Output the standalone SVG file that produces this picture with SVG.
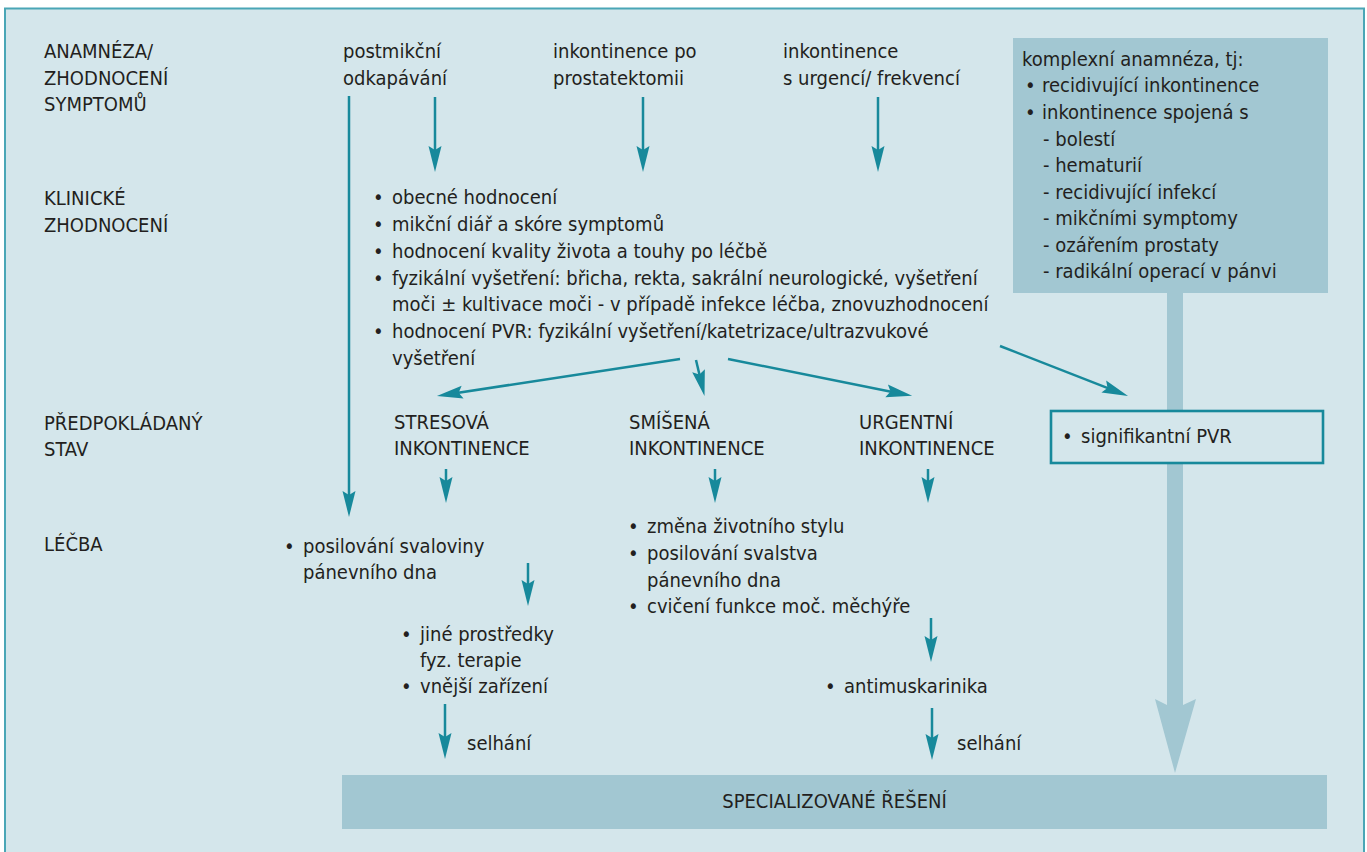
<svg xmlns="http://www.w3.org/2000/svg" width="1367" height="852" viewBox="0 0 1367 852">
  <style>
    text { font-family: "DejaVu Sans Condensed", "Liberation Sans", sans-serif; font-stretch: condensed; font-size: 20px; fill: #231f20; }
    .frame { fill: #d4e6eb; stroke: #4aa6b6; stroke-width: 2; }
    .panel { fill: #a2c7d2; }
    .flow { fill: none; stroke: #17899b; stroke-width: 2.5; marker-end: url(#head); }
    .pvr { fill: #d4e6eb; stroke: #17899b; stroke-width: 2.6; }
  </style>
  <defs>
    <marker id="head" markerUnits="userSpaceOnUse" markerWidth="26" markerHeight="14" viewBox="0 -7 26 14" refX="16" refY="0" orient="auto">
      <path d="M0,-6.5 L26,0 L0,6.5 L4,0 Z" fill="#17899b"/>
    </marker>
  </defs>

  <rect width="1367" height="852" fill="#ffffff"/>
  <rect class="frame" x="5" y="8.5" width="1359" height="870"/>

  <!-- row labels -->
  <g id="row-labels">
    <text x="44" y="58">ANAMNÉZA/</text>
    <text x="44" y="85">ZHODNOCENÍ</text>
    <text x="44" y="111">SYMPTOMŮ</text>
    <text x="44" y="205">KLINICKÉ</text>
    <text x="44" y="232">ZHODNOCENÍ</text>
    <text x="44" y="430">PŘEDPOKLÁDANÝ</text>
    <text x="44" y="456">STAV</text>
    <text x="44" y="551">LÉČBA</text>
  </g>

  <!-- wide channel from the complex history box down to specialist care -->
  <g id="specialist-channel">
    <rect class="panel" x="1167" y="292" width="16" height="414"/>
    <path class="panel" d="M1167,705 L1155,699 L1175,773 L1196,699 L1183,705 Z"/>
  </g>

  <g id="connectors">
    <path class="flow" d="M349,96 V507"/>
    <path class="flow" d="M435,97 V162"/>
    <path class="flow" d="M643,97 V162"/>
    <path class="flow" d="M878,97 V162"/>
    <path class="flow" d="M680,359 L446.8,394.5"/>
    <path class="flow" d="M696,360 L702.2,386.2"/>
    <path class="flow" d="M728,359 L902.3,393.9"/>
    <path class="flow" d="M1000,346 L1118.7,392.3"/>
    <path class="flow" d="M446,469 V493"/>
    <path class="flow" d="M715,469 V493"/>
    <path class="flow" d="M928,469 V493"/>
    <path class="flow" d="M528,563 V596"/>
    <path class="flow" d="M445,704 V749"/>
    <path class="flow" d="M931,618 V652"/>
    <path class="flow" d="M932,708 V750"/>
  </g>

  <g id="postmikcni">
    <text x="343" y="58">postmikční</text>
    <text x="343" y="85">odkapávání</text>
  </g>
  <g id="po-prostatektomii">
    <text x="553" y="58">inkontinence po</text>
    <text x="553" y="85">prostatektomii</text>
  </g>
  <g id="urgence-frekvence">
    <text x="783" y="58">inkontinence</text>
    <text x="783" y="85">s urgencí/ frekvencí</text>
  </g>

  <g id="komplexni-anamneza">
    <rect class="panel" x="1013" y="38" width="315" height="255"/>
    <text x="1022" y="66">komplexní anamnéza, tj:</text>
    <text y="92"><tspan x="1025">•</tspan><tspan x="1042">recidivující inkontinence</tspan></text>
    <text y="119"><tspan x="1025">•</tspan><tspan x="1042">inkontinence spojená s</tspan></text>
    <text x="1043" y="146">- bolestí</text>
    <text x="1043" y="172">- hematurií</text>
    <text x="1043" y="199">- recidivující infekcí</text>
    <text x="1043" y="225">- mikčními symptomy</text>
    <text x="1043" y="252">- ozářením prostaty</text>
    <text x="1043" y="278">- radikální operací v pánvi</text>
  </g>

  <g id="klinicke-zhodnoceni">
    <text y="204"><tspan x="373">•</tspan><tspan x="392">obecné hodnocení</tspan></text>
    <text y="231"><tspan x="373">•</tspan><tspan x="392">mikční diář a skóre symptomů</tspan></text>
    <text y="258"><tspan x="373">•</tspan><tspan x="392">hodnocení kvality života a touhy po léčbě</tspan></text>
    <text y="285"><tspan x="373">•</tspan><tspan x="392">fyzikální vyšetření: břicha, rekta, sakrální neurologické, vyšetření</tspan></text>
    <text x="392" y="311">moči ± kultivace moči - v případě infekce léčba, znovuzhodnocení</text>
    <text y="338"><tspan x="373">•</tspan><tspan x="392">hodnocení PVR: fyzikální vyšetření/katetrizace/ultrazvukové</tspan></text>
    <text x="392" y="365">vyšetření</text>
  </g>

  <g id="stresova">
    <text x="394" y="429">STRESOVÁ</text>
    <text x="394" y="455">INKONTINENCE</text>
  </g>
  <g id="smisena">
    <text x="629" y="429">SMÍŠENÁ</text>
    <text x="629" y="455">INKONTINENCE</text>
  </g>
  <g id="urgentni">
    <text x="859" y="429">URGENTNÍ</text>
    <text x="859" y="455">INKONTINENCE</text>
  </g>

  <g id="signifikantni-pvr">
    <rect class="pvr" x="1051" y="411" width="272" height="52"/>
    <text y="443"><tspan x="1062">•</tspan><tspan x="1081">signifikantní PVR</tspan></text>
  </g>

  <g id="posilovani-svaloviny">
    <text y="553"><tspan x="284">•</tspan><tspan x="303">posilování svaloviny</tspan></text>
    <text x="303" y="579">pánevního dna</text>
  </g>
  <g id="jine-prostredky">
    <text y="641"><tspan x="401">•</tspan><tspan x="420">jiné prostředky</tspan></text>
    <text x="420" y="667">fyz. terapie</text>
    <text y="693"><tspan x="401">•</tspan><tspan x="420">vnější zařízení</tspan></text>
  </g>
  <g id="selhani-1">
    <text x="467" y="750">selhání</text>
  </g>

  <g id="zmena-stylu">
    <text y="533"><tspan x="628">•</tspan><tspan x="647">změna životního stylu</tspan></text>
    <text y="560"><tspan x="628">•</tspan><tspan x="647">posilování svalstva</tspan></text>
    <text x="647" y="587">pánevního dna</text>
    <text y="613"><tspan x="628">•</tspan><tspan x="647">cvičení funkce moč. měchýře</tspan></text>
  </g>
  <g id="antimuskarinika">
    <text y="693"><tspan x="825">•</tspan><tspan x="844">antimuskarinika</tspan></text>
  </g>
  <g id="selhani-2">
    <text x="957" y="750">selhání</text>
  </g>

  <g id="specializovane-reseni">
    <rect class="panel" x="342" y="775" width="985" height="54"/>
    <text x="834.5" y="808" text-anchor="middle">SPECIALIZOVANÉ ŘEŠENÍ</text>
  </g>
</svg>
